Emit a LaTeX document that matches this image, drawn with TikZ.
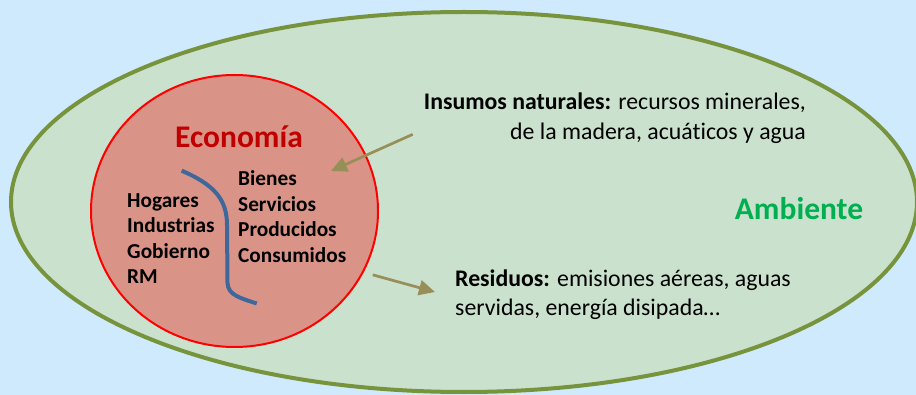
\documentclass[tikz,border=0pt]{standalone}
\usepackage{fontspec}
\setmainfont{Carlito}[Ligatures=NoCommon]
\usepackage{tikz}
\usetikzlibrary{shapes,shapes.geometric,arrows.meta,positioning}
\definecolor{fondo}{RGB}{207,234,252}
\definecolor{verdeamb}{RGB}{202,225,205}
\definecolor{oliva}{RGB}{119,147,60}
\definecolor{rojoeco}{RGB}{218,148,135}
\definecolor{flechacol}{RGB}{152,142,88}
\definecolor{azulcurva}{RGB}{62,103,156}
\tikzstyle{ambblock}=[ellipse, draw=oliva, fill=verdeamb, line width=4pt, inner sep=0pt, minimum width=906pt, minimum height=380pt]
\tikzstyle{ecoblock}=[ellipse, draw=red, fill=rojoeco, line width=2pt, inner sep=0pt, minimum width=287pt, minimum height=272pt]
\tikzstyle{titulo}=[font=\fontsize{31.5}{33}\selectfont\bfseries, inner sep=0pt]
\tikzstyle{lista}=[font=\fontsize{21.3}{25.5}\selectfont\bfseries, align=left, inner sep=0pt, anchor=west]
\tikzstyle{texto}=[font=\fontsize{23.8}{29.5}\selectfont, inner sep=0pt]
\tikzstyle{flecha}=[-{Triangle[length=16pt,width=15pt]}, draw=flechacol, fill=flechacol, line width=2.7pt]

\begin{document}
\begin{tikzpicture}[x=1pt,y=-1pt]
\useasboundingbox[fill=fondo] (0,0) rectangle (916,395);

\node[ambblock] (ambiente) at (464,202) {};
\node[ecoblock] (economia) at (234.5,211) {};

\node[titulo, text={rgb,255:red,192;green,0;blue,0}] (t-eco) at (239,137) {Economía};
\node[titulo, text={rgb,255:red,0;green,176;blue,80}] (t-amb) at (799,209) {Ambiente};

\node[lista] (agentes) at (127,238.5) {Hogares\\Industrias\\Gobierno\\RM};
\node[lista] (bienes) at (238,216.5) {Bienes\\Servicios\\Producidos\\Consumidos};

\node[texto, align=right, anchor=east] (insumos) at (806,118) {\textbf{Insumos naturales:} recursos minerales,\\de la madera, acuáticos y agua};
\node[texto, align=left, anchor=west] (residuos) at (455,294.5) {\textbf{Residuos:} emisiones aéreas, aguas\\servidas, energía disipada\ldots};

% flujo
\draw[line width=4pt, draw=azulcurva] (181.7,170.7) .. controls (215,185) and (227,200) .. (227,225) -- (227.5,283) .. controls (228,295) and (240,298) .. (256.7,303.5);

\coordinate (ins-tip) at (331,171);
\coordinate (res-tip) at (435,292);
\draw[flecha] ([shift={(-11,-9)}]insumos.south west) -- (ins-tip);
\draw[flecha] ([shift={(11,-1)}]economia.-27) -- (res-tip);

\end{tikzpicture}
\end{document}
